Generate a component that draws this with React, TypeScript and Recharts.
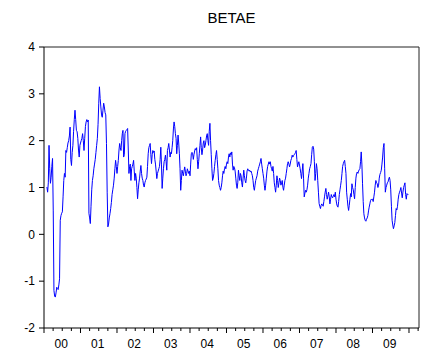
import React from 'react';
import { LineChart, Line, XAxis, YAxis, ReferenceLine } from 'recharts';

const TITLE = 'BETAE';
const YEAR_LABELS = ['00', '01', '02', '03', '04', '05', '06', '07', '08', '09'];
const Y_TICKS = [-2, -1, 0, 1, 2, 3, 4];
const X_MIN = 2000;
const X_MAX = 2010.274;
const FIRST_OBS = 2000.08; // first weekly observation in 2000

const beta2000 = [1.01,0.90,1.10,1.90,1.40,1.09,1.22,1.45,1.62,0.50,-1.20,-1.32,-1.34,-1.25,-1.13,-1.16,-1.18,-1.08,-0.95,0.30,0.40,0.45,0.48,0.80,1.15,1.30,1.22,1.79,1.75,1.85,1.95,2.00,2.10,2.29,1.60,1.47,1.75,1.90,2.20,2.45,2.65,2.45,2.22,2.19,2.05,1.80,1.65,1.90];
const beta2001 = [1.95,2.00,2.05,2.15,2.00,1.79,2.05,2.30,2.40,2.45,2.40,2.44,0.45,0.35,0.23,0.60,0.95,1.15,1.25,1.40,1.50,1.60,1.75,1.90,2.05,2.35,2.80,3.15,2.90,2.72,2.55,2.50,2.65,2.80,2.72,2.60,2.55,1.94,0.90,0.16,0.22,0.35,0.44,0.55,0.68,0.85,0.95,1.05,1.20,1.40,1.58,1.45];
const beta2002 = [1.30,1.45,1.58,1.80,1.94,1.85,1.79,2.00,2.15,2.22,1.65,1.70,2.15,2.20,2.22,2.24,2.26,1.80,1.30,1.45,1.50,1.15,1.40,1.45,1.50,1.58,1.35,1.15,1.30,1.20,1.00,0.76,0.95,1.10,1.20,1.35,1.47,1.30,1.20,1.15,1.05,1.01,1.10,1.15,1.18,1.22,1.45,1.72,1.85,1.90,1.94,1.70,1.51,1.70,1.79];
const beta2003 = [1.75,1.78,1.60,1.50,1.35,1.19,1.30,1.35,1.40,1.45,1.60,1.86,1.50,0.98,1.20,1.40,1.55,1.60,1.69,1.55,1.37,1.79,1.85,1.94,1.80,1.65,1.75,1.72,1.85,2.00,2.25,2.40,2.30,2.15,2.05,1.72,1.90,2.12,1.95,1.72,1.40,0.94,1.15,1.37,1.30,1.25,1.35,1.44,1.35,1.25,1.30,1.40,1.35,1.30,1.35];
const beta2004 = [1.25,1.50,1.72,1.75,1.72,1.60,1.70,1.78,1.83,1.80,1.85,1.60,1.40,1.55,1.72,1.90,2.08,1.85,1.70,1.80,1.95,2.00,1.85,1.90,2.00,2.10,2.15,2.00,1.90,2.20,2.37,2.00,1.70,1.40,1.15,1.20,1.30,1.45,1.58,1.70,1.79,1.60,1.40,1.15,1.05,1.00,0.94,1.00,1.10,1.25,1.35,1.30,1.40,1.45,1.40];
const beta2005 = [1.50,1.55,1.51,1.65,1.72,1.65,1.74,1.70,1.76,1.50,1.37,1.45,1.42,1.35,1.20,1.05,0.98,1.10,1.37,1.25,1.15,1.30,1.25,1.10,1.01,1.20,1.37,1.25,1.15,1.10,1.20,1.35,1.40,1.37,1.35,1.37,1.33,1.35,1.30,1.25,1.15,1.00,0.94,1.05,1.15,1.20,1.25,1.35,1.40,1.45,1.50,1.55,1.62,1.50,1.40];
const beta2006 = [1.30,1.20,1.05,0.94,1.05,1.20,1.35,1.45,1.50,1.55,1.50,1.55,1.45,1.40,1.35,1.45,1.30,1.10,1.00,0.90,1.05,1.25,1.15,1.00,1.10,1.20,1.15,1.05,1.10,1.15,1.00,0.94,1.05,1.15,1.20,1.30,1.40,1.51,1.55,1.50,1.44,1.50,1.58,1.62,1.69,1.65,1.68,1.70,1.72,1.75,1.79,1.60,1.44,1.50,1.55];
const beta2007 = [1.48,1.40,1.30,1.19,1.35,1.51,1.20,0.80,0.88,0.94,0.90,0.95,1.05,1.20,1.30,1.40,1.45,1.51,1.70,1.86,1.88,1.82,1.55,1.15,1.30,1.51,1.40,1.15,0.90,0.66,0.60,0.55,0.62,0.65,0.62,0.60,0.70,0.80,0.90,0.98,0.85,0.75,0.82,0.90,0.80,0.65,0.75,0.85,0.80,0.78,0.82,0.85,0.80,0.90];
const beta2008 = [0.75,0.65,0.60,0.58,0.70,0.85,0.95,1.05,1.15,1.30,1.45,1.51,1.55,1.58,1.45,1.30,0.90,0.75,0.60,0.51,0.62,0.75,0.87,0.80,1.08,1.00,0.95,0.85,0.76,1.00,1.20,1.30,1.33,1.30,1.35,1.38,1.40,1.55,1.76,1.50,1.08,0.70,0.44,0.35,0.30,0.28,0.32,0.35,0.40,0.50,0.58,0.65,0.72,0.75,0.74];
const beta2009 = [0.75,0.70,0.80,0.90,1.05,1.15,1.10,1.08,1.00,1.05,1.20,1.28,1.32,1.37,1.50,1.65,1.85,1.94,1.40,0.90,1.00,1.05,1.10,1.12,1.18,1.22,1.15,0.95,0.60,0.30,0.20,0.12,0.18,0.25,0.40,0.55,0.52,0.60,0.75,0.85,0.90,0.94,1.00,0.88,0.78,0.90,1.00,1.05,1.10,0.85,0.75,0.87,0.85,0.85];

const laterYears: [number, number[]][] = [
  [2001, beta2001], [2002, beta2002], [2003, beta2003], [2004, beta2004], [2005, beta2005],
  [2006, beta2006], [2007, beta2007], [2008, beta2008], [2009, beta2009],
];

const data: { t: number; v: number }[] = [];
beta2000.forEach((v, i) => data.push({ t: FIRST_OBS + i / 52, v }));
laterYears.forEach(([year, vals]) => vals.forEach((v, i) => data.push({ t: year + i / vals.length, v })));

const xTicks: number[] = [];
for (let y = 2000; y <= 2010; y++) for (let q = 0; q < 4; q++) { const t = y + q / 4; if (t <= X_MAX) xTicks.push(t); }

const XTick = (props: any) => {
  const { x, y, payload } = props;
  const v: number = payload.value;
  const isYear = Math.abs(v - Math.round(v)) < 1e-6;
  const isMid = Math.abs(v - Math.floor(v) - 0.5) < 1e-6;
  const label = YEAR_LABELS[Math.floor(v) - 2000];
  return (
    <g>
      <line x1={x} x2={x} y1={y} y2={y + (isYear ? 5 : 3)} stroke="#000" strokeWidth={1} />
      {isMid && label && (
        <text x={x - 1} y={y + 20} textAnchor="middle" fontSize={12} fill="#000">{label}</text>
      )}
    </g>
  );
};

export default function App() {
  return (
    <div style={{ position: 'absolute', left: 0, top: 0, width: 427, height: 350, fontFamily: '"Liberation Sans", Arial, sans-serif', background: '#fff' }}>
      <LineChart width={427} height={350} data={data} margin={{ top: 47, right: 8, bottom: 0, left: 0 }}>
        <XAxis
          dataKey="t"
          type="number"
          domain={[X_MIN, X_MAX]}
          ticks={xTicks}
          interval={0}
          height={22}
          tickSize={0}
          tickMargin={0}
          tickLine={false}
          axisLine={{ stroke: '#000', strokeWidth: 1 }}
          tick={<XTick />}
          allowDataOverflow
        />
        <YAxis
          type="number"
          domain={[-2, 4]}
          ticks={Y_TICKS}
          interval={0}
          width={44}
          tickSize={5}
          tickMargin={4}
          axisLine={{ stroke: '#000', strokeWidth: 1 }}
          tickLine={{ stroke: '#000' }}
          tick={{ fill: '#000', fontSize: 12 }}
        />
        <ReferenceLine y={4} stroke="#222" strokeWidth={1} />
        <ReferenceLine x={X_MAX} stroke="#222" strokeWidth={1} />
        <Line dataKey="v" type="linear" stroke="#0000ff" strokeWidth={1} dot={false} isAnimationActive={false} />
      </LineChart>
      <svg width={427} height={40} style={{ position: 'absolute', left: 0, top: 0 }}>
        <text x={231.5} y={23} textAnchor="middle" fontSize={15} fill="#000">{TITLE}</text>
      </svg>
    </div>
  );
}
